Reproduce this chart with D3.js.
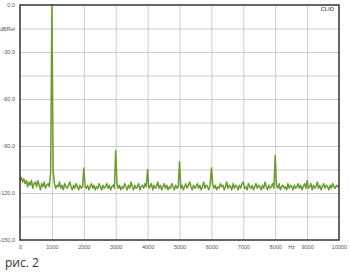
<!DOCTYPE html>
<html>
  <head>
    <meta charset="utf-8">
    <title>FFT</title>
    <script type="text/javascript" src="https://d3js.org/d3.v7.min.js"></script>
    <style>
      html, body { margin: 0; background: #fff; }
      svg { display: block; }
    </style>
  </head>
  <body>
    <script>

    // frequency step of the noise floor (Hz)
    var step = 40;

    // noise floor, dB, one value every 40 Hz from 0 to 10000
    var noise = [
      -112,-110,-113,-111,-114,-112,-116,-113,-115,-112,-117,-114,-113,-116,-112,-115,-118,-114,-116,-113,-117,-115,-114,-116,-113,
      -115,-112,-114,-117,-115,-116,-113,-117,-115,-118,-114,-116,-117,-115,-113,-116,-118,-115,-117,-114,-116,-118,-115,-117,-116,
      -114,-116,-117,-115,-118,-116,-114,-117,-115,-118,-116,-117,-114,-116,-118,-115,-117,-116,-114,-117,-115,-118,-116,-115,-117,
      -116,-114,-117,-115,-118,-116,-117,-114,-116,-118,-115,-117,-113,-116,-118,-115,-117,-116,-114,-118,-116,-115,-117,-114,-116,
      -115,-117,-116,-114,-118,-115,-117,-116,-113,-117,-115,-118,-116,-114,-117,-115,-118,-116,-117,-114,-116,-118,-115,-117,-116,
      -114,-117,-115,-118,-116,-114,-117,-115,-113,-116,-118,-115,-117,-116,-114,-117,-115,-118,-116,-113,-117,-115,-116,-118,-115,
      -116,-114,-117,-115,-118,-116,-117,-114,-116,-115,-118,-116,-113,-117,-115,-116,-118,-114,-117,-115,-116,-118,-115,-117,-114,
      -115,-117,-116,-118,-114,-116,-117,-115,-118,-116,-114,-117,-115,-116,-118,-115,-117,-113,-116,-118,-115,-117,-116,-114,-117,
      -116,-115,-117,-114,-118,-116,-115,-117,-116,-118,-114,-117,-115,-116,-118,-115,-117,-116,-114,-117,-115,-118,-116,-114,-117,
      -115,-117,-116,-114,-118,-115,-117,-116,-113,-117,-115,-118,-116,-114,-117,-115,-116,-118,-115,-117,-114,-116,-117,-115,-116,
      -115
    ];

    // fundamental, its skirt and harmonics
    var peakFreqs  = [960, 1000, 1040, 2000, 3000, 4000, 5000, 6000, 7000, 8000, 9000];
    var peakLevels = [-107, 0, -106, -104, -93, -105, -100, -104, -113, -96, -112];

    var yTicks = [0, -15, -30, -60, -90, -120, -150];
    var yTickLabels = ["0.0", "dBRel", "-30.0", "-60.0", "-90.0", "-120.0", "-150.0"];
    var xTicks = [0, 1000, 2000, 3000, 4000, 5000, 6000, 7000, 8000, 8500, 9000, 10000];
    var xTickLabels = ["0", "1000", "2000", "3000", "4000", "5000", "6000", "7000", "8000", "Hz", "9000", "10000"];

    var width = 350, height = 272;
    var plotL = 20, plotR = 339, plotT = 5, plotB = 240;

    var data = noise.map(function(v, i) { return { f: i * step, db: v }; });
    peakFreqs.forEach(function(f, i) {
      data[Math.round(f / step)].db = peakLevels[i];
    });

    var x = d3.scaleLinear().domain([0, 10000]).range([plotL, plotR]);
    var y = d3.scaleLinear().domain([0, -150]).range([plotT, plotB]);

    var svg = d3.select("body").append("svg")
      .attr("width", width)
      .attr("height", height);

    svg.append("rect")
      .attr("x", plotL).attr("y", plotT)
      .attr("width", plotR - plotL).attr("height", plotB - plotT)
      .attr("fill", "#fff");

    // grid
    svg.append("g")
      .attr("transform", "translate(0," + plotB + ")")
      .call(d3.axisBottom(x).tickValues(d3.range(1000, 10000, 1000))
        .tickSize(-(plotB - plotT)).tickFormat(""))
      .call(function(g) {
        g.select(".domain").remove();
        g.selectAll("line").attr("stroke", "#c0c0c0").attr("stroke-width", 0.8);
      });

    svg.append("g")
      .attr("transform", "translate(" + plotL + ",0)")
      .call(d3.axisLeft(y).tickValues(d3.range(-15, -150, -15))
        .tickSize(-(plotR - plotL)).tickFormat(""))
      .call(function(g) {
        g.select(".domain").remove();
        g.selectAll("line").attr("stroke", "#c0c0c0").attr("stroke-width", 0.8);
      });

    // tick labels
    svg.append("g")
      .attr("transform", "translate(" + (plotL - 2) + ",0)")
      .call(d3.axisLeft(y).tickValues(yTicks).tickSize(0)
        .tickFormat(function(d, i) { return yTickLabels[i]; }))
      .call(function(g) {
        g.select(".domain").remove();
        g.selectAll("text")
          .attr("font-family", "Arial, 'Liberation Sans', sans-serif")
          .attr("font-size", 5.5)
          .attr("fill", "#555");
      });

    svg.append("g")
      .attr("transform", "translate(0," + (plotB + 2) + ")")
      .call(d3.axisBottom(x).tickValues(xTicks).tickSize(0)
        .tickFormat(function(d, i) { return xTickLabels[i]; }))
      .call(function(g) {
        g.select(".domain").remove();
        g.selectAll("text")
          .attr("font-family", "Arial, 'Liberation Sans', sans-serif")
          .attr("font-size", 5.5)
          .attr("fill", "#555");
      });

    // spectrum
    var line = d3.line()
      .x(function(d) { return x(d.f); })
      .y(function(d) { return y(d.db); });

    svg.append("path")
      .datum(data)
      .attr("fill", "none")
      .attr("stroke", "#6b9b30")
      .attr("stroke-width", 1.5)
      .attr("stroke-linejoin", "round")
      .attr("d", line);

    // frame
    svg.append("rect")
      .attr("x", plotL).attr("y", plotT)
      .attr("width", plotR - plotL).attr("height", plotB - plotT)
      .attr("fill", "none")
      .attr("stroke", "#333")
      .attr("stroke-width", 1.5);

    svg.append("text")
      .attr("x", plotR - 5).attr("y", plotT + 6)
      .attr("text-anchor", "end")
      .attr("font-family", "Arial, 'Liberation Sans', sans-serif")
      .attr("font-size", 5.5)
      .attr("font-weight", "bold")
      .attr("fill", "#666")
      .text("CLIO");

    svg.append("text")
      .attr("x", 5).attr("y", 267)
      .attr("font-family", "'Open Sans', sans-serif")
      .attr("font-size", 12)
      .attr("fill", "#333")
      .text("рис. 2");

    </script>
  </body>
</html>
